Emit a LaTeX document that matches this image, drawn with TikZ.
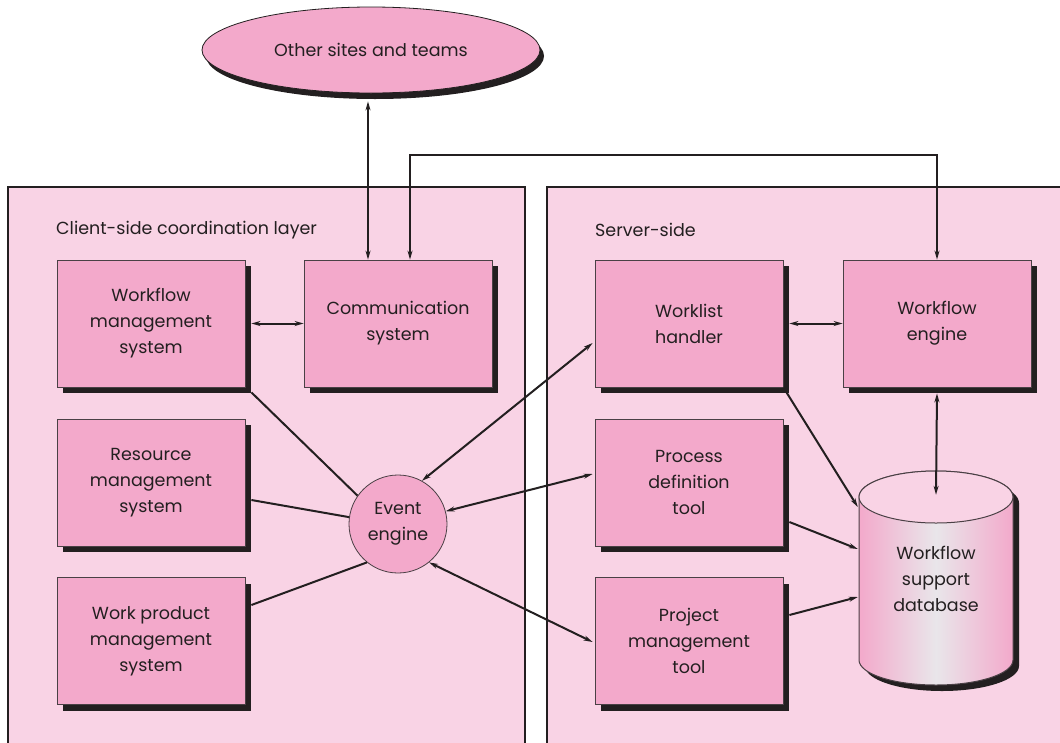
\documentclass[tikz,border=0pt]{standalone}
\usepackage{fontspec}
\setmainfont{Poppins}
\usetikzlibrary{shapes.geometric,shadows,arrows.meta,calc}
\definecolor{panelc}{HTML}{F9D3E5}
\definecolor{boxc}{HTML}{F3A9CB}
\definecolor{linec}{HTML}{4A4045}
\definecolor{darkc}{HTML}{231F20}
\definecolor{greyc}{HTML}{E9E6EA}
\begin{document}
\begin{tikzpicture}[x=1pt,y=-1pt,
  txt/.style={font=\fontsize{17.5}{26}\selectfont, text=darkc, align=center},
  shad/.style={drop shadow={shadow xshift=6pt, shadow yshift=-6pt, opacity=1, fill=darkc}},
  box/.style={txt, rectangle, draw=linec, line width=0.8pt, fill=boxc,
    minimum width=188pt, minimum height=127pt, inner sep=0pt, shad},
  panel/.style={draw=darkc, line width=1.1pt, fill=panelc},
  conn/.style={draw=darkc, line width=2pt},
  dbl/.style={conn, {Stealth[length=9pt,width=5pt]}-{Stealth[length=9pt,width=5pt]}},
  arr/.style={conn, -{Stealth[length=9pt,width=5pt]}},
  ptitle/.style={font=\fontsize{17.5}{20}\selectfont, text=darkc, anchor=west, inner sep=0pt}
]
\useasboundingbox (0,0) rectangle (1060,742);
% panels
\draw[panel] (8,187) rectangle (525,750);
\draw[panel] (547,187) rectangle (1068,750);
\node[ptitle] (ltitle) at (56,230) {Client-side coordination layer};
\node[ptitle] (rtitle) at (595,230) {Server-side};

% top ellipse
\node[txt, ellipse, draw=darkc, line width=0.8pt, fill=boxc, minimum width=338pt, minimum height=86pt,
  drop shadow={shadow xshift=4pt, shadow yshift=-6pt, opacity=1, fill=darkc}] (other) at (371,50) {Other sites and teams};

% boxes
\node[box] (wms)  at (151,323.5) {Workflow\\management\\system};
\node[box] (comm) at (398,323.5) {Communication\\system};
\node[box] (res)  at (151,482.5) {Resource\\management\\system};
\node[box] (wpm)  at (151,641) {Work product\\management\\system};
\node[box] (wl)   at (689,323.5) {Worklist\\handler};
\node[box] (we)   at (937,323.5) {Workflow\\engine};
\node[box] (pdt)  at (689,482.5) {Process\\definition\\tool};
\node[box] (pmt)  at (689,641) {Project\\management\\tool};

% event engine
\node[txt, circle, draw=linec, line width=0.8pt, fill=boxc, minimum size=98pt, inner sep=0pt] (ev) at (398,524) {Event\\engine};

% database cylinder
\fill[darkc, shift={(6,6)}] (859,497) -- (859,660) arc[start angle=180, end angle=0, x radius=77, y radius=25]
  -- (1013,497) arc[start angle=0, end angle=-180, x radius=77, y radius=26] -- cycle;
\shade[left color=boxc, right color=boxc, middle color=greyc]
  (859,497) -- (859,660) arc[start angle=180, end angle=0, x radius=77, y radius=25]
  -- (1013,497) arc[start angle=0, end angle=-180, x radius=77, y radius=26] -- cycle;
\draw[linec, line width=1pt]
  (859,497) -- (859,660) arc[start angle=180, end angle=0, x radius=77, y radius=25]
  -- (1013,497) arc[start angle=0, end angle=-180, x radius=77, y radius=26] -- cycle;
\draw[linec, line width=1pt, fill=panelc] (936,497) ellipse [x radius=77, y radius=26];
\node[txt, minimum width=154pt, minimum height=163pt, inner sep=0pt] (db) at (936,578.5) {Workflow\\support\\database};

% connectors
\coordinate (oA) at ($(other.south)+(-3,8)$);
\draw[dbl] (oA) -- (oA |- comm.north);
\draw[dbl] ([xshift=12pt]comm.north) -- ++(0,-105) -| (we.north);
\draw[dbl] ($(wms.east)+(6,0)$) -- (comm.west);
\draw[dbl] ($(wl.east)+(6,0)$) -- (we.west);

\draw[conn] ($(wms.south east)+(6,5)$) -- (ev.145);
\draw[conn] ($(res.east)+(6,17.5)$) -- (ev.172);
\draw[conn] ($(wpm.east)+(6,-36)$) -- (ev.231);

\draw[dbl] (ev.61) -- ($(wl.west)+(-2,19.5)$);
\draw[dbl] (ev.15) -- ($(pdt.west)+(-2,-8.5)$);
\draw[dbl] (ev.309) -- ($(pmt.west)+(-2,1)$);

\draw[arr] (wl.south east) -- ($(db.west)+(-1,-71.5)$);
\draw[arr] ($(pdt.east)+(6,39.5)$) -- ($(db.west)+(-1,-29.5)$);
\draw[arr] ($(pmt.east)+(6,-26)$) -- ($(db.west)+(-1,18.5)$);
\draw[dbl] ($(we.south)+(0,6)$) -- ($(db.north)+(0,-2)$);
\end{tikzpicture}
\end{document}
